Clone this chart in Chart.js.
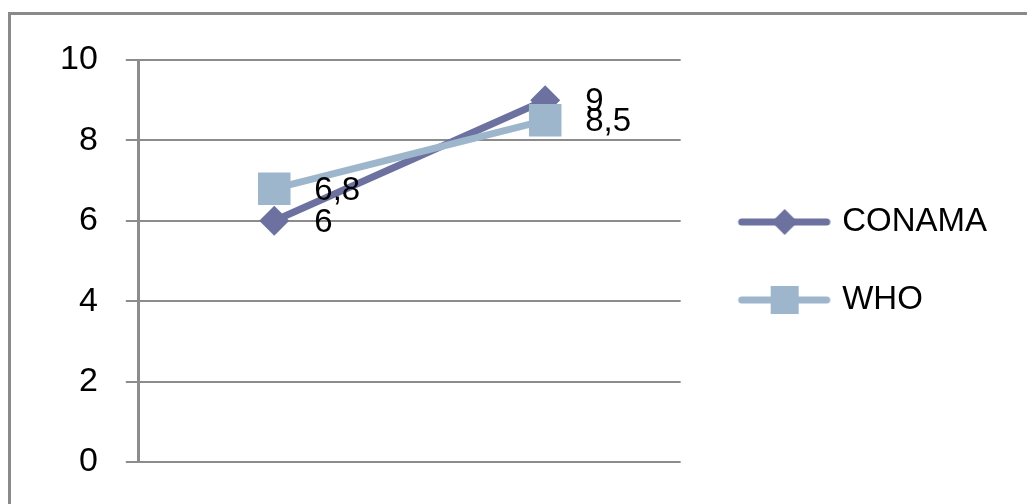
<!DOCTYPE html>
<html>
<head>
<meta charset="utf-8">
<script src="https://cdn.jsdelivr.net/npm/chart.js@4.4.1/dist/chart.umd.min.js"></script>
<style>
  html, body { margin: 0; padding: 0; background: #fff; }
  #wrap { width: 1027px; height: 504px; position: relative; }
</style>
</head>
<body>
<div id="wrap"><canvas id="chart" width="1027" height="504"></canvas></div>
<script>
// data
const categories = ['A', 'B'];
const conamaValues = [6, 9];
const whoValues = [6.8, 8.5];
const conamaLabels = ['6', '9'];
const whoLabels = ['6,8', '8,5'];
const yTicks = [0, 2, 4, 6, 8, 10];

const conamaColor = '#6c71a0';
const whoColor = '#9db6cc';
const gridColor = '#8c8c8c';
const fontFamily = '"Liberation Sans", Arial, sans-serif';

// little legend pictures: line with the marker on it
// (canvas is wider on the left so the sample sits a bit right of the legend start)
function legendPic(color, kind) {
  const c = document.createElement('canvas');
  c.width = 110; c.height = 32;
  const g = c.getContext('2d');
  g.strokeStyle = color;
  g.lineWidth = 7;
  g.lineCap = 'round';
  g.beginPath();
  g.moveTo(21, 16);
  g.lineTo(106, 16);
  g.stroke();
  g.fillStyle = color;
  if (kind === 'diamond') {
    g.beginPath();
    g.moveTo(64, 3); g.lineTo(77, 16); g.lineTo(64, 29); g.lineTo(51, 16);
    g.closePath();
    g.fill();
  } else {
    g.fillRect(50, 2, 28, 28);
  }
  return c;
}
const conamaPic = legendPic(conamaColor, 'diamond');
const whoPic = legendPic(whoColor, 'square');

// frame round the whole chart, and let the legend draw up to the canvas edge
const framePlugin = {
  id: 'frame',
  afterLayout(chart) {
    if (chart.legend) {
      chart.legend.right = chart.width;
      chart.legend.width = chart.legend.right - chart.legend.left;
    }
  },
  beforeDraw(chart) {
    const ctx = chart.ctx;
    ctx.save();
    ctx.strokeStyle = '#8a8a8a';
    ctx.lineWidth = 3;
    ctx.strokeRect(9.5, 13.5, 1200, 700);
    ctx.restore();
  }
};

// value labels to the right of each point
const valueLabels = {
  id: 'valueLabels',
  afterDatasetsDraw(chart) {
    const ctx = chart.ctx;
    ctx.save();
    ctx.font = '33px ' + fontFamily;
    ctx.fillStyle = '#000';
    ctx.textAlign = 'left';
    ctx.textBaseline = 'middle';
    chart.data.datasets.forEach((ds, i) => {
      const meta = chart.getDatasetMeta(i);
      meta.data.forEach((pt, j) => {
        ctx.fillText(ds.valueText[j], pt.x + 40, pt.y + 2);
      });
    });
    ctx.restore();
  }
};

new Chart(document.getElementById('chart').getContext('2d'), {
  type: 'line',
  data: {
    labels: categories,
    datasets: [
      {
        label: 'CONAMA',
        data: conamaValues,
        valueText: conamaLabels,
        borderColor: conamaColor,
        backgroundColor: conamaColor,
        borderWidth: 7,
        pointStyle: 'rectRot',
        pointRadius: 15,
        pointBorderWidth: 0,
        legendPic: conamaPic,
        order: 1
      },
      {
        label: 'WHO',
        data: whoValues,
        valueText: whoLabels,
        borderColor: whoColor,
        backgroundColor: whoColor,
        borderWidth: 7,
        pointStyle: 'rect',
        pointRadius: 23,
        pointBorderWidth: 0,
        legendPic: whoPic,
        order: 0
      }
    ]
  },
  options: {
    responsive: false,
    animation: false,
    layout: { padding: { left: 32, top: 60, bottom: 42, right: 30 } },
    scales: {
      x: {
        display: false,
        offset: true
      },
      y: {
        min: 0,
        max: 10,
        afterBuildTicks(axis) { axis.ticks = yTicks.map(v => ({ value: v })); },
        ticks: {
          padding: 28,
          color: '#000',
          font: { family: fontFamily, size: 34, lineHeight: 0.5 }
        },
        grid: {
          color: gridColor,
          lineWidth: 2,
          tickLength: 13,
          tickColor: gridColor
        },
        border: { display: true, color: gridColor, width: 3 }
      }
    },
    plugins: {
      tooltip: { enabled: false },
      legend: {
        position: 'right',
        align: 'center',
        maxWidth: 400,
        labels: {
          usePointStyle: true,
          pointStyleWidth: 100,
          padding: 45,
          color: '#000',
          font: { family: fontFamily, size: 33 },
          sort: (a, b) => a.datasetIndex - b.datasetIndex,
          generateLabels(chart) {
            return chart.data.datasets.map((ds, i) => ({
              text: ds.label,
              datasetIndex: i,
              pointStyle: ds.legendPic,
              fillStyle: ds.backgroundColor,
              strokeStyle: ds.borderColor,
              lineWidth: 0,
              hidden: false
            }));
          }
        }
      }
    }
  },
  plugins: [framePlugin, valueLabels]
});
</script>
</body>
</html>
